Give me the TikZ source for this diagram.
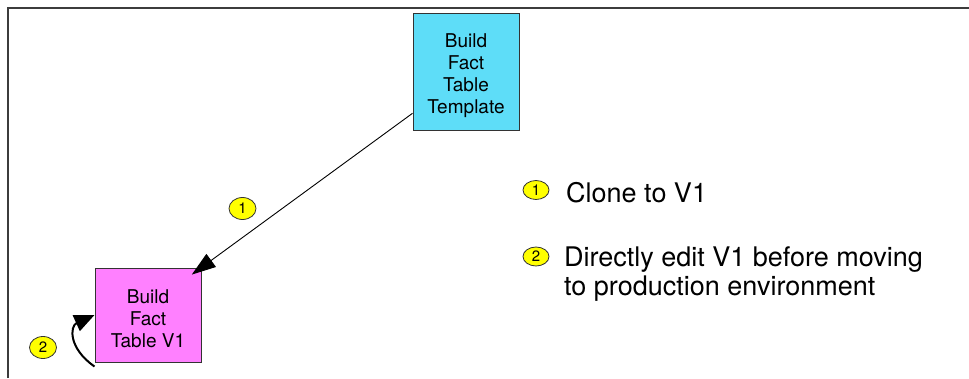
\documentclass[tikz,border=0pt]{standalone}
\usepackage{fontspec}
\setmainfont{TeX Gyre Heros}
\usetikzlibrary{arrows.meta,shapes.geometric}
\definecolor{tmplcyan}{RGB}{94,221,248}
\definecolor{vonepink}{RGB}{255,128,255}
\definecolor{markyellow}{RGB}{255,255,0}
\definecolor{framegray}{RGB}{60,60,60}
\tikzset{
  frameline/.style={draw=framegray, line width=2pt},
  jobbox/.style={draw=black!80, line width=1pt, minimum width=106pt, inner sep=0pt},
  boxtext/.style={inner sep=0pt, align=center, yshift=-4pt,
    font=\fontsize{19}{22}\selectfont},
  marker/.style={ellipse, draw=black!80, line width=0.8pt, fill=markyellow,
    minimum width=27pt, minimum height=22pt, inner sep=0pt,
    font=\fontsize{15}{15}\selectfont},
  legtext/.style={inner sep=0pt, align=left, font=\fontsize{27}{29}\selectfont},
  flow/.style={line width=0.9pt, -{Triangle[length=24pt,width=16pt]}},
  selfedit/.style={line width=2pt, -{Triangle[length=20pt,width=17pt]}}
}
\begin{document}
\begin{tikzpicture}[x=1pt,y=-1pt]
\useasboundingbox (0,0) rectangle (969,378);
% open frame along the top and left
\draw[frameline] (8,378) -- (8,8) -- (969,8);

% job boxes
\node[jobbox, fill=tmplcyan, minimum height=117pt,
  label={[boxtext]center:Build\\Fact\\Table\\Template}] (tmpl) at (466,71.5) {};
\node[jobbox, fill=vonepink, minimum height=94pt,
  label={[boxtext]center:Build\\Fact\\Table V1}] (vone) at (148,315) {};

% step 1: clone
\draw[flow, shorten >=-12pt] (tmpl.218) -- (vone.north east);
\node[marker] (m1) at (242.5,208.5) {1};

% step 2: edit in place
\coordinate (editstart) at ([shift={(0,4)}]vone.south west);
\draw[selfedit] (editstart) .. controls (68,348) and (70,326) .. (vone.west);
\node[marker] (m2) at (43,347.5) {2};

% legend
\node[marker, minimum width=26pt, minimum height=19pt] (k1) at (536,190) {1};
\node[legtext, anchor=base west] (t1) at (566,202) {Clone to V1};
\node[marker, minimum width=26pt, minimum height=19pt] (k2) at (536,256.5) {2};
\node[legtext, anchor=base west] (t2) at (564,295)
  {Directly edit V1 before moving\\to production environment};
\end{tikzpicture}
\end{document}
